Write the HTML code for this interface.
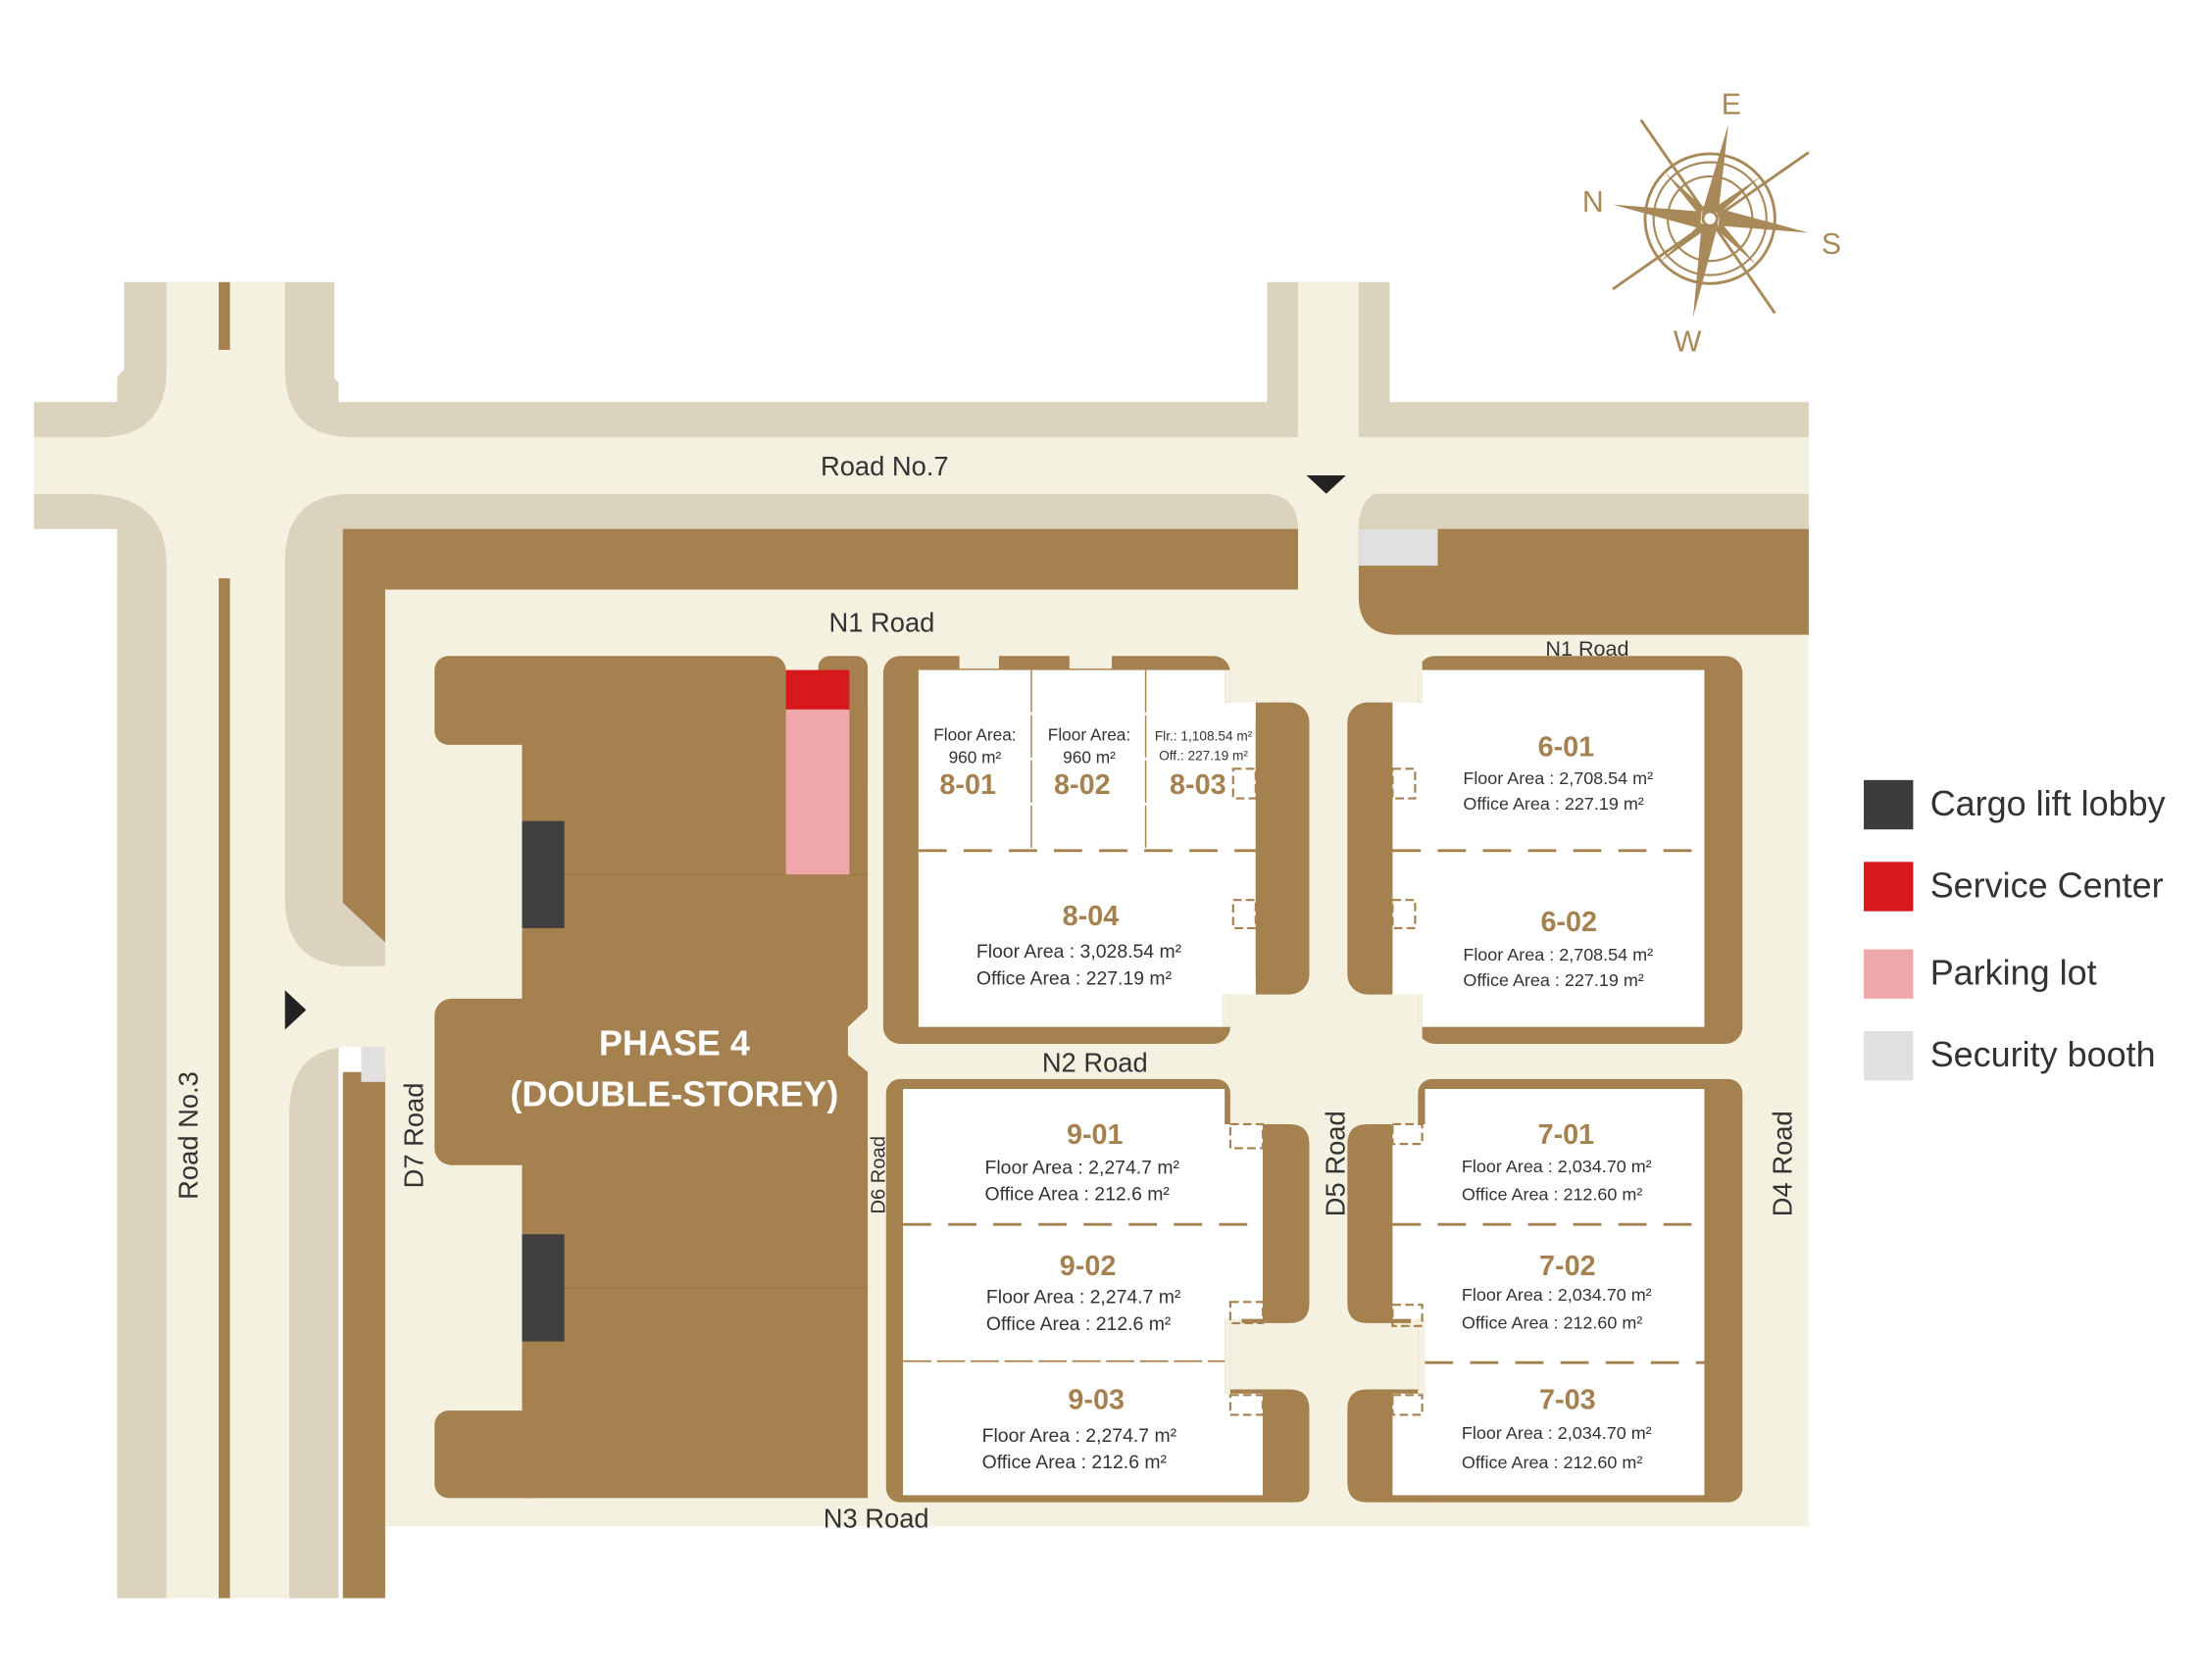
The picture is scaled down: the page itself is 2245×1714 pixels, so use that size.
<!DOCTYPE html>
<html><head><meta charset="utf-8"><style>
html,body{margin:0;padding:0;background:#fff;}
svg{display:block;}
text{font-family:"Liberation Sans",sans-serif;fill:#333;}
.t{font-size:12px}
.b{font-weight:bold;fill:#a5814f;font-size:20px}
.r{font-size:19px}
.d{stroke:#a5814f;stroke-width:2;stroke-dasharray:20 12;fill:none}
.sq{stroke:#a5814f;stroke-width:1.5;stroke-dasharray:6 3;fill:none}
</style></head><body>
<svg width="2245" height="1714" viewBox="0 0 1560 1191" xmlns="http://www.w3.org/2000/svg">
<rect width="1560" height="1191" fill="#fff"/>
<g fill="#dcd3be">
<rect x="24" y="285" width="1258" height="90"/>
<rect x="83" y="200" width="157" height="933"/>
<rect x="898" y="200" width="87" height="150"/>
</g>
<g fill="#fff">
<path d="M24,200 L88,200 L88,262 L66,285 L24,285 Z"/>
<path d="M24,382 L72,382 L83,405 L83,1133 L24,1133 Z"/>
<path d="M237,200 L898,200 L898,285 L252,285 L237,268 Z"/>
<path d="M985,200 L1282,200 L1282,285 L985,285 Z"/>
</g>
<g fill="#f5f1e0">
<rect x="24" y="310" width="1258" height="40"/>
<path d="M118,200 L118,262 Q118,310 70,310 L24,310 L24,350 L60,350 Q118,350 118,400 L118,1133 L205,1133 L205,790 Q205,742 250,742 L273,742 L273,685 L250,685 Q202,685 202,637 L202,398 Q202,350 250,350 L895,350 Q920,350 920,375 L920,418 L273,418 L273,1082 L1282,1082 L1282,450 L990,450 Q963,450 963,423 L963,375 Q963,348 985,348 L1282,348 L1282,310 L250,310 Q202,310 202,262 L202,200 Z"/>
<rect x="920" y="200" width="43" height="230"/>
<rect x="240" y="685" width="34" height="57"/>
</g>
<rect x="240" y="375" width="33" height="310" fill="#dcd3be"/>
<g fill="#a5814f">
<path d="M243,375 L920,375 L920,418 L273,418 L273,668 L243,640 Z"/>
<path d="M963,375 L1282,375 L1282,450 L990,450 Q963,450 963,423 Z"/>
<rect x="243" y="760" width="30" height="373"/>
<rect x="155" y="200" width="8" height="48"/>
<rect x="155" y="410" width="8" height="723"/>
</g>
<rect x="963" y="375" width="56" height="26" fill="#e0e0e0"/>
<rect x="256" y="742" width="17" height="25" fill="#e0e0e0"/>
<polygon points="926,337 954,337 940,350" fill="#222"/>
<polygon points="202,702 217,716 202,730" fill="#222"/>
<g fill="#a5814f">
<rect x="308" y="465" width="249" height="63" rx="10"/>
<rect x="370" y="500" width="245" height="562"/>
<rect x="580" y="465" width="35" height="100" rx="8"/>
<rect x="308" y="708" width="80" height="118" rx="12"/>
<rect x="308" y="1000" width="80" height="62" rx="10"/>
</g>
<polygon points="615,715 601,728 601,748 615,760" fill="#f5f1e0"/>
<line x1="370" y1="620" x2="615" y2="620" stroke="#9a7848" stroke-width="1"/>
<line x1="370" y1="913" x2="615" y2="913" stroke="#9a7848" stroke-width="1"/>
<rect x="557" y="475" width="45" height="28" fill="#d7191c"/>
<rect x="557" y="503" width="45" height="117" fill="#f0a7aa"/>
<rect x="370" y="582" width="30" height="76" fill="#404040"/>
<rect x="370" y="875" width="30" height="76" fill="#404040"/>
<text x="478" y="748" text-anchor="middle" style="font-size:25px;font-weight:bold;fill:#fff">PHASE 4</text>
<text x="478" y="784" text-anchor="middle" style="font-size:25px;font-weight:bold;fill:#fff">(DOUBLE-STOREY)</text>

<rect x="626" y="465" width="246" height="275" rx="12" fill="#a5814f"/>
<rect x="680" y="460" width="28" height="14" fill="#f5f1e0"/>
<rect x="758" y="460" width="30" height="14" fill="#f5f1e0"/>
<rect x="651" y="475" width="217" height="253" fill="#fff"/>
<rect x="866" y="498" width="26" height="207" fill="#fff"/>
<rect x="868" y="475" width="4" height="23" fill="#f5f1e0"/>
<rect x="866" y="705" width="6" height="23" fill="#f5f1e0"/>
<rect x="890" y="498" width="38" height="207" rx="14" fill="#a5814f"/>
<rect x="890" y="498" width="14" height="207" fill="#a5814f"/>
<line x1="731" y1="475" x2="731" y2="603" stroke="#a5814f" stroke-width="1" stroke-dasharray="30 2"/>
<line x1="812" y1="475" x2="812" y2="603" stroke="#a5814f" stroke-width="1" stroke-dasharray="30 2"/>
<line x1="651" y1="603" x2="890" y2="603" class="d"/>
<rect x="874" y="545" width="16" height="21" class="sq"/>
<rect x="874" y="638" width="16" height="20" class="sq"/>
<text x="691" y="525" text-anchor="middle" class="t">Floor Area:</text>
<text x="691" y="541" text-anchor="middle" class="t">960 m²</text>
<text x="686" y="563" text-anchor="middle" class="b">8-01</text>
<text x="772" y="525" text-anchor="middle" class="t">Floor Area:</text>
<text x="772" y="541" text-anchor="middle" class="t">960 m²</text>
<text x="767" y="563" text-anchor="middle" class="b">8-02</text>
<text x="853" y="525" text-anchor="middle" style="font-size:9.5px">Flr.: 1,108.54 m²</text>
<text x="853" y="539" text-anchor="middle" style="font-size:9.5px">Off.: 227.19 m²</text>
<text x="849" y="563" text-anchor="middle" class="b">8-03</text>
<text x="773" y="656" text-anchor="middle" class="b">8-04</text>
<text x="692" y="679" style="font-size:13.5px">Floor Area   : 3,028.54 m²</text>
<text x="692" y="698" style="font-size:13.5px">Office Area : 227.19 m²</text>

<rect x="1005" y="465" width="230" height="275" rx="12" fill="#a5814f"/>
<rect x="1008" y="475" width="200" height="253" fill="#fff"/>
<rect x="985" y="498" width="25" height="207" fill="#fff"/>
<rect x="955" y="498" width="32" height="207" rx="14" fill="#a5814f"/>
<rect x="973" y="498" width="14" height="207" fill="#a5814f"/>
<rect x="1005" y="705" width="3" height="35" fill="#f5f1e0"/>
<rect x="1005" y="465" width="3" height="33" fill="#f5f1e0"/>
<line x1="987" y1="603" x2="1208" y2="603" class="d"/>
<rect x="987" y="545" width="16" height="21" class="sq"/>
<rect x="987" y="638" width="16" height="20" class="sq"/>
<text x="1110" y="536" text-anchor="middle" class="b">6-01</text>
<text x="1037" y="556" style="font-size:12.5px">Floor Area   : 2,708.54 m²</text>
<text x="1037" y="574" style="font-size:12.5px">Office Area : 227.19 m²</text>
<text x="1112" y="660" text-anchor="middle" class="b">6-02</text>
<text x="1037" y="681" style="font-size:12.5px">Floor Area   : 2,708.54 m²</text>
<text x="1037" y="699" style="font-size:12.5px">Office Area : 227.19 m²</text>

<rect x="628" y="765" width="244" height="300" rx="10" fill="#a5814f"/>
<path d="M860,985 L914,985 Q928,985 928,999 L928,1055 Q928,1065 918,1065 L860,1065 Z" fill="#a5814f"/>
<path d="M880,797 L914,797 Q928,797 928,811 L928,924 Q928,938 914,938 L880,938 Z" fill="#a5814f"/>
<rect x="640" y="772" width="228" height="288" fill="#fff"/>
<rect x="866" y="797" width="29" height="138" fill="#fff"/>
<rect x="866" y="988" width="29" height="72" fill="#fff"/>
<rect x="868" y="935" width="4" height="53" fill="#f5f1e0"/>
<line x1="640" y1="868" x2="895" y2="868" class="d"/>
<line x1="640" y1="965" x2="868" y2="965" stroke="#a5814f" stroke-width="1.2" stroke-dasharray="20 4"/>
<rect x="872" y="797" width="23" height="17" class="sq"/>
<rect x="872" y="923" width="23" height="15" class="sq"/>
<rect x="872" y="989" width="23" height="14" class="sq"/>
<text x="776" y="811" text-anchor="middle" class="b">9-01</text>
<text x="698" y="832" style="font-size:13.5px">Floor Area   : 2,274.7 m²</text>
<text x="698" y="851" style="font-size:13.5px">Office Area : 212.6 m²</text>
<text x="771" y="904" text-anchor="middle" class="b">9-02</text>
<text x="699" y="924" style="font-size:13.5px">Floor Area   : 2,274.7 m²</text>
<text x="699" y="943" style="font-size:13.5px">Office Area : 212.6 m²</text>
<text x="777" y="999" text-anchor="middle" class="b">9-03</text>
<text x="696" y="1022" style="font-size:13.5px">Floor Area   : 2,274.7 m²</text>
<text x="696" y="1041" style="font-size:13.5px">Office Area : 212.6 m²</text>

<rect x="1005" y="765" width="230" height="300" rx="10" fill="#a5814f"/>
<path d="M1020,985 L969,985 Q955,985 955,999 L955,1051 Q955,1065 969,1065 L1020,1065 Z" fill="#a5814f"/>
<path d="M1000,797 L969,797 Q955,797 955,811 L955,924 Q955,938 969,938 L1000,938 Z" fill="#a5814f"/>
<rect x="1010" y="772" width="198" height="288" fill="#fff"/>
<rect x="987" y="797" width="25" height="138" fill="#fff"/>
<rect x="987" y="988" width="25" height="72" fill="#fff"/>
<rect x="1005" y="935" width="5" height="53" fill="#f5f1e0"/>
<line x1="987" y1="868" x2="1208" y2="868" class="d"/>
<line x1="1010" y1="966" x2="1208" y2="966" class="d"/>
<rect x="987" y="797" width="21" height="14" class="sq"/>
<rect x="987" y="925" width="21" height="15" class="sq"/>
<rect x="987" y="989" width="21" height="14" class="sq"/>
<text x="1110" y="811" text-anchor="middle" class="b">7-01</text>
<text x="1036" y="831" style="font-size:12.5px">Floor Area   : 2,034.70 m²</text>
<text x="1036" y="851" style="font-size:12.5px">Office Area : 212.60 m²</text>
<text x="1111" y="904" text-anchor="middle" class="b">7-02</text>
<text x="1036" y="922" style="font-size:12.5px">Floor Area   : 2,034.70 m²</text>
<text x="1036" y="942" style="font-size:12.5px">Office Area : 212.60 m²</text>
<text x="1111" y="999" text-anchor="middle" class="b">7-03</text>
<text x="1036" y="1020" style="font-size:12.5px">Floor Area   : 2,034.70 m²</text>
<text x="1036" y="1041" style="font-size:12.5px">Office Area : 212.60 m²</text>

<text x="627" y="337" text-anchor="middle" class="r">Road No.7</text>
<text x="625" y="448" text-anchor="middle" class="r">N1 Road</text>
<text x="1125" y="465" text-anchor="middle" style="font-size:15px">N1 Road</text>
<text x="776" y="760" text-anchor="middle" class="r">N2 Road</text>
<text x="621" y="1083" text-anchor="middle" class="r">N3 Road</text>
<text transform="translate(140,805) rotate(-90)" text-anchor="middle" class="r">Road No.3</text>
<text transform="translate(300,805) rotate(-90)" text-anchor="middle" class="r">D7 Road</text>
<text transform="translate(627,833) rotate(-90)" text-anchor="middle" style="font-size:14px">D6 Road</text>
<text transform="translate(953,825) rotate(-90)" text-anchor="middle" class="r">D5 Road</text>
<text transform="translate(1270,825) rotate(-90)" text-anchor="middle" class="r">D4 Road</text>

<rect x="1321" y="553" width="35" height="35" fill="#3c3c3c"/>
<rect x="1321" y="611" width="35" height="35" fill="#d7191c"/>
<rect x="1321" y="673" width="35" height="35" fill="#f0a7aa"/>
<rect x="1321" y="731" width="35" height="35" fill="#e0e0e0"/>
<text x="1368" y="578" style="font-size:25px">Cargo lift lobby</text>
<text x="1368" y="636" style="font-size:25px">Service Center</text>
<text x="1368" y="698" style="font-size:25px">Parking lot</text>
<text x="1368" y="756" style="font-size:25px">Security booth</text>

<g stroke="#a8895a" fill="none">
<circle cx="1212" cy="155" r="46" stroke-width="2"/>
<circle cx="1212" cy="155" r="40" stroke-width="1.5"/>
<circle cx="1212" cy="155" r="30" stroke-width="1.5"/>
<circle cx="1212" cy="155" r="9" stroke-width="2"/>
<line x1="1163" y1="85" x2="1258" y2="222" stroke-width="2"/>
<line x1="1282" y1="108" x2="1143" y2="205" stroke-width="2"/>
</g>
<g fill="#a8895a">
<polygon points="1225,88 1218,150 1206,152"/>
<polygon points="1200,225 1206,160 1218,158"/>
<polygon points="1143,145 1206,150 1205,162"/>
<polygon points="1282,165 1218,160 1219,148"/>
<polygon points="1180,122 1208,148 1204,152"/>
<polygon points="1245,188 1216,162 1220,158"/>
<polygon points="1248,125 1218,152 1214,148"/>
<polygon points="1176,186 1206,158 1210,162"/>
</g>
<circle cx="1212" cy="155" r="5" fill="#fff" stroke="#a8895a" stroke-width="2"/>
<text x="1227" y="81" text-anchor="middle" style="font-size:21px;fill:#a8895a">E</text>
<text x="1129" y="150" text-anchor="middle" style="font-size:21px;fill:#a8895a">N</text>
<text x="1298" y="180" text-anchor="middle" style="font-size:21px;fill:#a8895a">S</text>
<text x="1196" y="249" text-anchor="middle" style="font-size:21px;fill:#a8895a">W</text>
</svg>
</body></html>
